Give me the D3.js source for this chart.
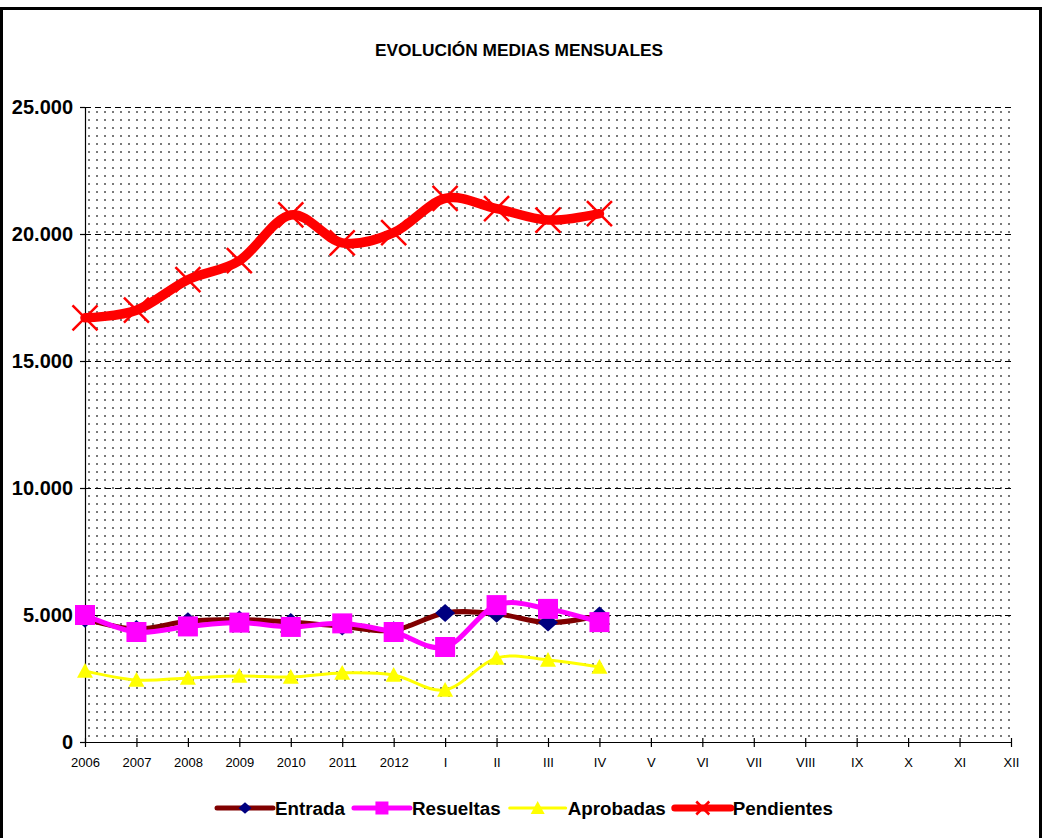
<!DOCTYPE html>
<html>
<head>
<meta charset="utf-8">
<script src="https://cdn.jsdelivr.net/npm/d3@7"></script>
<style>
  body { margin: 0; background: white; }
  svg { display: block; font-family: Arial, "Liberation Sans", sans-serif; }
</style>
</head>
<body>
<svg width="1043" height="838"></svg>
<script>
// categories on the x axis
var categories = ["2006", "2007", "2008", "2009", "2010", "2011", "2012",
    "I", "II", "III", "IV", "V", "VI", "VII", "VIII", "IX", "X", "XI", "XII"];

// series values (only up to IV)
var entrada    = [4850, 4450, 4750, 4820, 4720, 4550, 4400, 5080, 5050, 4700, 4980];
var resueltas  = [5000, 4330, 4550, 4700, 4530, 4670, 4330, 3740, 5390, 5240, 4720];
var aprobadas  = [2800, 2440, 2520, 2600, 2560, 2720, 2640, 2050, 3310, 3230, 2950];
var pendientes = [16700, 17000, 18200, 18950, 20750, 19650, 20050, 21400, 21000, 20550, 20800];

var yTicks = [0, 5000, 10000, 15000, 20000, 25000];
var seriesNames = ["Entrada", "Resueltas", "Aprobadas", "Pendientes"];

var svg = d3.select("svg"),
    width = +svg.attr("width"),
    height = +svg.attr("height");

var plotLeft = 85, plotRight = 1011, plotTop = 107, plotBottom = 742;

var x = d3.scalePoint().domain(categories).range([plotLeft, plotRight]);
var y = d3.scaleLinear().domain([0, 25000]).range([plotBottom, plotTop]);

var loc = d3.formatLocale({decimal: ",", thousands: ".", grouping: [3], currency: ["", ""]});
var fmt = loc.format(",");

// outer frame
svg.append("rect")
    .attr("x", 1.5).attr("y", 8.5)
    .attr("width", width - 4).attr("height", height)
    .style("fill", "white")
    .style("stroke", "black")
    .style("stroke-width", 3);

// dotted plot background
var defs = svg.append("defs");
var pat = defs.append("pattern")
    .attr("id", "dots")
    .attr("patternUnits", "userSpaceOnUse")
    .attr("x", plotLeft + 3).attr("y", plotTop + 4)
    .attr("width", 8).attr("height", 8);
pat.append("rect")
    .attr("x", 0).attr("y", 0)
    .attr("width", 2).attr("height", 2)
    .style("fill", "#7a7a7a");

svg.append("rect")
    .attr("x", plotLeft).attr("y", plotTop)
    .attr("width", plotRight - plotLeft).attr("height", plotBottom - plotTop)
    .style("fill", "url(#dots)");

// title
svg.append("text")
    .attr("x", 519).attr("y", 56)
    .attr("text-anchor", "middle")
    .style("font-size", "17.3px")
    .style("font-weight", "bold")
    .text("EVOLUCIÓN MEDIAS MENSUALES");

// gridlines
svg.append("g")
    .selectAll("line")
    .data(yTicks.filter(function(d){ return d > 0; }))
    .enter().append("line")
    .attr("x1", plotLeft).attr("x2", plotRight)
    .attr("y1", function(d){ return y(d) + 0.5; })
    .attr("y2", function(d){ return y(d) + 0.5; })
    .style("stroke", "#000")
    .style("stroke-width", 1)
    .style("stroke-dasharray", "6,4");

// y axis
var yAxis = svg.append("g")
    .attr("transform", "translate(" + plotLeft + ",0)")
    .call(d3.axisLeft(y).tickValues(yTicks).tickFormat(fmt).tickSizeInner(5).tickSizeOuter(0).tickPadding(7));
yAxis.selectAll("text")
    .style("font-size", "20px")
    .style("font-weight", "bold")
    .style("font-family", "Arial, 'Liberation Sans', sans-serif")
    .attr("fill", "black");

// x axis (ticks cross the axis line)
var xAxis = svg.append("g")
    .attr("transform", "translate(0," + plotBottom + ")")
    .call(d3.axisBottom(x).tickSizeInner(5).tickSizeOuter(0).tickPadding(11));
xAxis.selectAll(".tick line").attr("y1", -4);
xAxis.selectAll("text")
    .style("font-size", "13px")
    .style("font-family", "Arial, 'Liberation Sans', sans-serif")
    .attr("fill", "black");
svg.selectAll(".domain, .tick line").style("stroke", "black").style("stroke-width", 1.2);

// marker shapes
function diamond(s) { return "M0," + (-s * 0.9) + "L" + s + ",0L0," + (s * 0.9) + "L" + (-s) + ",0Z"; }
function square(s) { return "M" + (-s) + "," + (-s) + "H" + s + "V" + s + "H" + (-s) + "Z"; }
function triangle(s) { return "M0," + (-s) + "L" + s + "," + (s * 0.85) + "L" + (-s) + "," + (s * 0.85) + "Z"; }
function cross(s) { return "M" + (-s) + "," + (-s) + "L" + s + "," + s + "M" + (-s) + "," + s + "L" + s + "," + (-s); }

var styles = [
    {values: entrada, line: "#800000", lw: 5, shape: diamond, size: 10, fill: "#000080", stroke: "none", ls: 6.5},
    {values: resueltas, line: "#FF00FF", lw: 5, shape: square, size: 10, fill: "#FF00FF", stroke: "none", ls: 6.5},
    {values: aprobadas, line: "#FFFF00", lw: 3, shape: triangle, size: 8, fill: "#FFFF00", stroke: "none", ls: 7},
    {values: pendientes, line: "#FF0000", lw: 9.5, shape: cross, size: 12.5, fill: "none", stroke: "#FF0000", ls: 6.5}
];

var line = d3.line()
    .x(function(d, i){ return x(categories[i]); })
    .y(function(d){ return y(d); })
    .curve(d3.curveCardinal.tension(0));

styles.forEach(function(s){
    var g = svg.append("g");
    g.append("path")
        .attr("d", line(s.values))
        .style("fill", "none")
        .style("stroke", s.line)
        .style("stroke-width", s.lw)
        .style("stroke-linejoin", "round")
        .style("stroke-linecap", "round");
    g.selectAll("path.mk")
        .data(s.values)
        .enter().append("path")
        .attr("class", "mk")
        .attr("transform", function(d, i){ return "translate(" + x(categories[i]) + "," + y(d) + ")"; })
        .attr("d", s.shape(s.size))
        .style("fill", s.fill)
        .style("stroke", s.stroke)
        .style("stroke-width", 2.5);
});

// legend
var legend = svg.append("g");
var lx = 217, ly = 808;
seriesNames.forEach(function(name, i){
    var s = styles[i];
    legend.append("line")
        .attr("x1", lx).attr("x2", lx + 56)
        .attr("y1", ly).attr("y2", ly)
        .style("stroke", s.line)
        .style("stroke-width", s.lw > 9 ? 7 : (s.lw === 3 ? 3 : 5))
        .style("stroke-linecap", "round");
    legend.append("path")
        .attr("transform", "translate(" + (lx + 28) + "," + ly + ")")
        .attr("d", s.shape(s.ls))
        .style("fill", s.fill)
        .style("stroke", s.stroke)
        .style("stroke-width", 2.5);
    var t = legend.append("text")
        .attr("x", lx + 58).attr("y", ly + 7)
        .style("font-size", "18.8px")
        .style("font-weight", "bold")
        .text(name);
    lx = lx + 58 + t.node().getComputedTextLength() + 9;
});
</script>
</body>
</html>
